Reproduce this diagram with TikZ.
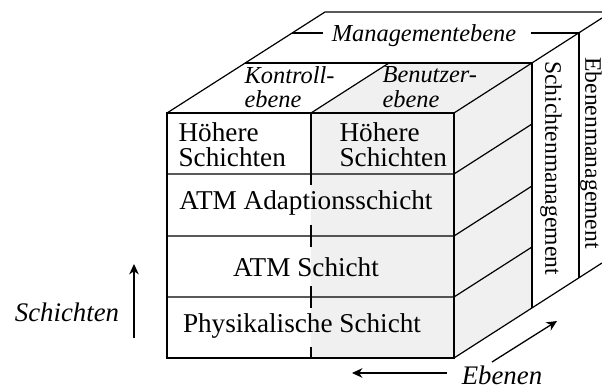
\documentclass[tikz,border=0pt]{standalone}
\usepackage{fontspec}
\setmainfont{Liberation Serif}
\usetikzlibrary{arrows.meta}
\definecolor{usergray}{RGB}{240,240,240}
\tikzset{
  layertext/.style={font=\fontsize{13.6}{12.6}\selectfont, inner sep=0pt},
  planetext/.style={font=\fontsize{12.2}{12.2}\selectfont\itshape, align=left, inner sep=0pt},
  mgmttext/.style={font=\fontsize{11.8}{14}\selectfont, rotate=-90, inner sep=0pt},
  axistext/.style={font=\fontsize{13.4}{14}\selectfont\itshape, inner sep=0pt},
  axisarrow/.style={-{Stealth[length=5.2pt,width=4.8pt,inset=1.6pt]}, line width=0.65pt}
}

\begin{document}
\begin{tikzpicture}[x=0.5pt,y=-0.5pt,line width=0.6pt]
    \useasboundingbox (0,0) rectangle (602,390);

    \fill [usergray] (311,113) -- (389,63) -- (532,63) -- (532,308) -- (454,358) -- (311,358) -- cycle;

    \draw (167,113) rectangle (454,358);
    \foreach \y in {174,236,297}
    {
        \draw (167,\y) -- (454,\y) -- (532,\y-50);
        \draw (311,\y-11) -- (311,\y+11);
    }
    \draw (311,113) -- (311,174);
    \draw (311,347) -- (311,358);

    \draw (167,113) -- (325,12) -- (602,12);
    \draw (245,63) -- (532,63);
    \draw (311,113) -- (389,63);
    \draw (454,113) -- (602,18);
    \draw (454,358) -- (602,263);
    \draw (532,63) -- (532,308);
    \draw (579,33) -- (579,278);

    \node [planetext, anchor=base] (mgmt) at (424,42) {Managementebene};
    \coordinate (mgl) at (292,33);
    \coordinate (mgr) at (579,33);
    \draw (mgl) -- ([xshift=-4pt]mgl -| mgmt.west);
    \draw ([xshift=7pt]mgr -| mgmt.east) -- (mgr);

    \node [planetext, anchor=west] (ctrl) at (244,87) {Kontroll-\\ebene};
    \node [planetext, anchor=west] (user) at (382,87) {Benutzer-\\ebene};

    \node [layertext, align=left, anchor=west] (highc) at (178,145) {Höhere\\Schichten};
    \node [layertext, align=left, anchor=west] (highu) at (339,145) {Höhere\\Schichten};
    \node [layertext, anchor=base] (aal) at (306,210) {ATM Adaptionsschicht};
    \node [layertext, anchor=base] (atm) at (306,277) {ATM Schicht};
    \node [layertext, anchor=base] (phy) at (302,333) {Physikalische Schicht};

    \node [mgmttext] (layermgmt) at (551,168) {Schichtenmanagement};
    \node [mgmttext] (planemgmt) at (591,153) {Ebenenmanagement};

    \node [axistext, anchor=base] (layers) at (67,322) {Schichten};
    \node [axistext, anchor=base] (planes) at (502,385) {Ebenen};
    \coordinate (la) at (134,338);
    \coordinate (lb) at (134,264);
    \draw [axisarrow] (la) -- (lb);
    \coordinate (pa) at (447,373);
    \coordinate (pb) at (352,373);
    \draw [axisarrow] (pa) -- (pb);
    \coordinate (pc) at (492,362);
    \coordinate (pd) at (557,321);
    \draw [axisarrow] (pc) -- (pd);
\end{tikzpicture}
\end{document}
